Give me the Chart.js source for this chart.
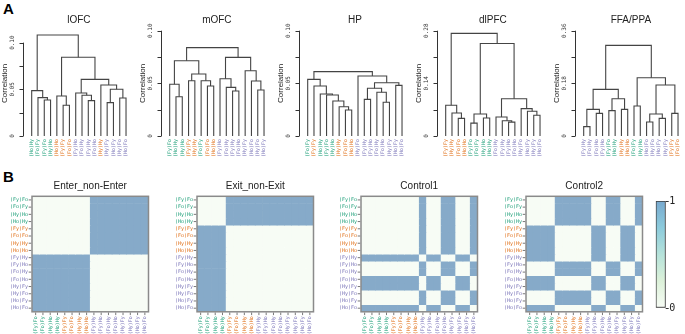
<!DOCTYPE html>
<html lang="en">
<head>
  <meta charset="UTF-8">
  <title>ROI dendrograms and model RDMs</title>
  <script src="https://cdn.jsdelivr.net/npm/chart.js"></script>
  <style>
    body { margin: 0; background: #fff; }
    #fig { position: relative; width: 685px; height: 334px; overflow: hidden; }
    #fig canvas { position: absolute; }
    .tag { position: absolute; left: 3px; font: bold 15px 'Liberation Sans', Arial, sans-serif; line-height: 15px; }
  </style>
</head>
<body>
<div id="fig">
  <div class="tag" style="top:1px">A</div>
  <div class="tag" style="top:169px">B</div>
</div>
<script>
// condition labels, grouped as in the model RDMs
const greenLabels = ['(Fy)Fo', '(Fo)Fy', '(Hy)Ho', '(Ho)Hy'];
const orangeLabels = ['(Fy)Fy', '(Fo)Fo', '(Hy)Hy', '(Ho)Ho'];
const purpleLabels = ['(Fy)Hy', '(Fy)Ho', '(Fo)Hy', '(Fo)Ho', '(Hy)Fy', '(Hy)Fo', '(Ho)Fy', '(Ho)Fo'];
const conditions = [...greenLabels, ...orangeLabels, ...purpleLabels];

// dendrograms: leaf order, then merges [nodeA, nodeB, height]
// nodes 0-15 are the leaves, node 16+k is merge k
const lofcLeaves = ['(Ho)Hy', '(Fo)Fy', '(Fy)Fo', '(Hy)Ho', '(Ho)Ho', '(Fy)Fy', '(Fo)Fo', '(Fy)Ho', '(Fo)Hy', '(Fy)Hy', '(Fo)Ho', '(Hy)Hy', '(Hy)Fy', '(Ho)Fy', '(Hy)Fo', '(Ho)Fo'];
const lofcMerges = [[2, 3, 0.0386], [1, 16, 0.0411], [0, 17, 0.0486], [5, 6, 0.0329], [4, 19, 0.0429], [9, 10, 0.0379], [8, 21, 0.0436], [7, 22, 0.0461], [12, 13, 0.0357], [14, 15, 0.0407], [24, 25, 0.0500], [11, 26, 0.0546], [23, 27, 0.0607], [20, 28, 0.0843], [18, 29, 0.1082]];

const mofcLeaves = ['(Fy)Fo', '(Ho)Hy', '(Hy)Ho', '(Fy)Fy', '(Hy)Hy', '(Fo)Fy', '(Fo)Fo', '(Ho)Ho', '(Fy)Ho', '(Fo)Hy', '(Fy)Hy', '(Fo)Ho', '(Hy)Fy', '(Ho)Fo', '(Hy)Fo', '(Ho)Fy'];
const mofcMerges = [[1, 2, 0.0373], [0, 16, 0.0491], [3, 4, 0.0525], [6, 7, 0.0475], [5, 19, 0.0525], [18, 20, 0.0589], [17, 21, 0.0715], [10, 11, 0.0427], [9, 23, 0.0462], [8, 24, 0.0544], [14, 15, 0.0437], [13, 26, 0.0522], [12, 27, 0.0620], [25, 28, 0.0747], [22, 29, 0.0839]];

const hpLeaves = ['(Fo)Fy', '(Fy)Fy', '(Ho)Hy', '(Fy)Fo', '(Hy)Ho', '(Hy)Hy', '(Fo)Fo', '(Ho)Ho', '(Hy)Fo', '(Fy)Hy', '(Fy)Ho', '(Fo)Hy', '(Fo)Ho', '(Hy)Fy', '(Ho)Fy', '(Ho)Fo'];
const hpMerges = [[6, 7, 0.0247], [5, 16, 0.0278], [4, 17, 0.0332], [3, 18, 0.0389], [2, 19, 0.0399], [1, 20, 0.0475], [0, 21, 0.0538], [9, 10, 0.0348], [12, 13, 0.0320], [11, 24, 0.0415], [23, 25, 0.0453], [14, 15, 0.0481], [26, 27, 0.0506], [8, 28, 0.0570], [22, 29, 0.0611]];

const dlpfcLeaves = ['(Fy)Fy', '(Hy)Hy', '(Fo)Fo', '(Ho)Ho', '(Fy)Fo', '(Fo)Fy', '(Hy)Ho', '(Ho)Hy', '(Fo)Hy', '(Fy)Hy', '(Fy)Ho', '(Fo)Ho', '(Hy)Fo', '(Ho)Fy', '(Hy)Fy', '(Ho)Fo'];
const dlpfcMerges = [[2, 3, 0.0468], [1, 16, 0.0612], [0, 17, 0.0819], [4, 5, 0.0342], [6, 7, 0.0477], [19, 20, 0.0585], [10, 11, 0.0369], [9, 22, 0.0405], [8, 23, 0.0504], [14, 15, 0.0550], [13, 25, 0.0657], [12, 26, 0.0729], [24, 27, 0.0990], [21, 28, 0.2458], [18, 29, 0.2728]];

const ffaLeaves = ['(Fy)Hy', '(Fo)Hy', '(Fo)Ho', '(Fy)Ho', '(Fy)Fo', '(Ho)Hy', '(Hy)Hy', '(Ho)Ho', '(Fo)Fy', '(Hy)Ho', '(Ho)Fo', '(Hy)Fo', '(Ho)Fy', '(Hy)Fy', '(Fy)Fy', '(Fo)Fo'];
const ffaMerges = [[0, 1, 0.0319], [2, 3, 0.0775], [16, 17, 0.0911], [4, 5, 0.0866], [6, 7, 0.0911], [19, 20, 0.1276], [18, 21, 0.1595], [8, 9, 0.1025], [10, 11, 0.0478], [12, 13, 0.0604], [24, 25, 0.0752], [14, 15, 0.0775], [26, 27, 0.1743], [23, 28, 0.1994], [22, 29, 0.3099]];

const roiNames = ['lOFC', 'mOFC', 'HP', 'dlPFC', 'FFA/PPA'];
const roiYMax = [0.1128, 0.10, 0.10, 0.28, 0.36];
const ofcTicks = [0, 0.025, 0.05, 0.075, 0.10];
const ofcTickLabels = ['0', '', '0.05', '', '0.10'];
const dlpfcTicks = [0, 0.07, 0.14, 0.21, 0.28];
const dlpfcTickLabels = ['0', '', '0.14', '', '0.28'];
const ffaTicks = [0, 0.09, 0.18, 0.27, 0.36];
const ffaTickLabels = ['0', '', '0.18', '', '0.36'];

// model RDMs, rows/cols in `conditions` order
const modelNames = ['Enter_non-Enter', 'Exit_non-Exit', 'Control1', 'Control2'];
const enterRdm = [
  '0000000011111111', '0000000011111111', '0000000011111111', '0000000011111111',
  '0000000011111111', '0000000011111111', '0000000011111111', '0000000011111111',
  '1111111100000000', '1111111100000000', '1111111100000000', '1111111100000000',
  '1111111100000000', '1111111100000000', '1111111100000000', '1111111100000000'
];
const exitRdm = [
  '0000111111111111', '0000111111111111', '0000111111111111', '0000111111111111',
  '1111000000000000', '1111000000000000', '1111000000000000', '1111000000000000',
  '1111000000000000', '1111000000000000', '1111000000000000', '1111000000000000',
  '1111000000000000', '1111000000000000', '1111000000000000', '1111000000000000'
];
const control1Rdm = [
  '0000000010011001', '0000000010011001', '0000000010011001', '0000000010011001',
  '0000000010011001', '0000000010011001', '0000000010011001', '0000000010011001',
  '1111111101100110', '0000000010011001', '0000000010011001', '1111111101100110',
  '1111111101100110', '0000000010011001', '0000000010011001', '1111111101100110'
];
const control2Rdm = [
  '0000111110011001', '0000111110011001', '0000111110011001', '0000111110011001',
  '1111000001100110', '1111000001100110', '1111000001100110', '1111000001100110',
  '1111000001100110', '0000111110011001', '0000111110011001', '1111000001100110',
  '1111000001100110', '0000111110011001', '0000111110011001', '1111000001100110'
];
const colorbarTicks = [0, 1];

const rdmColors = ['#f7fcf5', '#86aac9'];
const colorbarColors = ['#f7fcf5', '#dcf1d9', '#b5e2da', '#8ccbdc', '#78a9cf'];
const SANS = "'Liberation Sans', Arial, sans-serif";
const MONO = "'DejaVu Sans Mono', monospace";

function colorOf(lbl) {
  if (greenLabels.includes(lbl)) return '#1b9e77';
  if (orangeLabels.includes(lbl)) return '#e06f17';
  return '#7a74b8';
}

const fig = document.getElementById('fig');
function makeCanvas(left, top, w, h) {
  const c = document.createElement('canvas');
  c.width = w; c.height = h;
  c.style.left = left + 'px'; c.style.top = top + 'px';
  c.style.width = w + 'px'; c.style.height = h + 'px';
  fig.appendChild(c);
  return c;
}

function vText(ctx, txt, x, y, align) {
  ctx.save();
  ctx.translate(x, y);
  ctx.rotate(-Math.PI / 2);
  ctx.textAlign = align;
  ctx.textBaseline = 'middle';
  ctx.fillText(txt, 0, 0);
  ctx.restore();
}

function makeTreeDecor(t) {
  return {
    id: 'treeDecor',
    afterDraw(chart) {
      const { ctx, chartArea: a, scales: { x, y } } = chart;
      const ax = Math.round(a.left) + 0.5;
      ctx.save();
      ctx.strokeStyle = '#333'; ctx.lineWidth = 1;
      ctx.beginPath();
      ctx.moveTo(ax, y.getPixelForValue(t.ticks[0]));
      ctx.lineTo(ax, y.getPixelForValue(t.ticks[t.ticks.length - 1]));
      t.ticks.forEach(v => {
        const py = Math.round(y.getPixelForValue(v)) + 0.5;
        ctx.moveTo(ax, py); ctx.lineTo(ax - 4, py);
      });
      ctx.stroke();
      ctx.fillStyle = '#333';
      ctx.font = '6px ' + MONO;
      t.ticks.forEach((v, i) => {
        if (t.tickLabels[i]) vText(ctx, t.tickLabels[i], ax - 11, y.getPixelForValue(v), 'center');
      });
      ctx.fillStyle = '#222';
      ctx.font = '8px ' + SANS;
      vText(ctx, 'Correlation', ax - 19, (a.top + a.bottom) / 2, 'center');
      ctx.font = '10px ' + SANS;
      ctx.textAlign = 'center'; ctx.textBaseline = 'middle';
      ctx.fillText(t.name, x.getPixelForValue(7.5), 20);
      ctx.font = '5px ' + MONO;
      t.leaves.forEach((lbl, i) => {
        ctx.fillStyle = colorOf(lbl);
        vText(ctx, lbl, x.getPixelForValue(i), a.bottom + 3, 'right');
      });
      ctx.restore();
    }
  };
}

const trees = [
  { name: roiNames[0], leaves: lofcLeaves, merges: lofcMerges, yMax: roiYMax[0], ticks: ofcTicks, tickLabels: ofcTickLabels },
  { name: roiNames[1], leaves: mofcLeaves, merges: mofcMerges, yMax: roiYMax[1], ticks: ofcTicks, tickLabels: ofcTickLabels },
  { name: roiNames[2], leaves: hpLeaves, merges: hpMerges, yMax: roiYMax[2], ticks: ofcTicks, tickLabels: ofcTickLabels },
  { name: roiNames[3], leaves: dlpfcLeaves, merges: dlpfcMerges, yMax: roiYMax[3], ticks: dlpfcTicks, tickLabels: dlpfcTickLabels },
  { name: roiNames[4], leaves: ffaLeaves, merges: ffaMerges, yMax: roiYMax[4], ticks: ffaTicks, tickLabels: ffaTickLabels }
];

trees.forEach((t, k) => {
  const nodeX = t.leaves.map((_, i) => i);
  const nodeH = t.leaves.map(() => 0);
  const datasets = t.merges.map(([p, q, h]) => {
    nodeX.push((nodeX[p] + nodeX[q]) / 2);
    nodeH.push(h);
    return {
      data: [{ x: nodeX[p], y: nodeH[p] }, { x: nodeX[p], y: h }, { x: nodeX[q], y: h }, { x: nodeX[q], y: nodeH[q] }],
      showLine: true, borderColor: '#444', borderWidth: 1.1, pointRadius: 0, fill: false
    };
  });
  new Chart(makeCanvas(k * 138, 0, 138, 160), {
    type: 'scatter',
    data: { datasets },
    options: {
      responsive: false, animation: false, devicePixelRatio: 1,
      layout: { padding: { left: 22.7, right: 2.1, top: 30.7, bottom: 24 } },
      scales: {
        x: { type: 'linear', min: -1.43, max: 16.57, display: false },
        y: { type: 'linear', min: 0, max: t.yMax, display: false }
      },
      plugins: { legend: { display: false }, tooltip: { enabled: false } }
    },
    plugins: [makeTreeDecor(t)]
  });
});

function makeHeatDecor(name) {
  return {
    id: 'heatDecor',
    afterDraw(chart) {
      const { ctx, chartArea: a, scales: { x, y } } = chart;
      ctx.save();
      ctx.strokeStyle = '#8a8a8a'; ctx.lineWidth = 1.5;
      ctx.strokeRect(a.left, a.top, a.right - a.left, a.bottom - a.top);
      ctx.strokeStyle = '#555'; ctx.lineWidth = 0.8;
      ctx.beginPath();
      conditions.forEach((c, i) => {
        const py = y.getPixelForValue(i + 0.5);
        ctx.moveTo(a.left - 0.8, py); ctx.lineTo(a.left - 3.3, py);
        const px = x.getPixelForValue(i);
        ctx.moveTo(px, a.bottom + 0.8); ctx.lineTo(px, a.bottom + 3.3);
      });
      ctx.stroke();
      ctx.font = '5px ' + MONO;
      ctx.textAlign = 'right'; ctx.textBaseline = 'middle';
      conditions.forEach((c, i) => {
        ctx.fillStyle = colorOf(c);
        ctx.fillText(c, a.left - 4, y.getPixelForValue(i + 0.5));
        vText(ctx, c, x.getPixelForValue(i), a.bottom + 4.5, 'right');
      });
      ctx.fillStyle = '#222';
      ctx.font = '10px ' + SANS;
      ctx.textAlign = 'center'; ctx.textBaseline = 'middle';
      ctx.fillText(name, (a.left + a.right) / 2, 21);
      ctx.restore();
    }
  };
}

[enterRdm, exitRdm, control1Rdm, control2Rdm].forEach((rdm, k) => {
  new Chart(makeCanvas(k * 164.6, 165, 160, 169), {
    type: 'bar',
    data: {
      labels: conditions,
      datasets: rdm.map((row, i) => ({
        data: conditions.map(() => [i, i + 1]),
        backgroundColor: row.split('').map(v => rdmColors[+v]),
        borderWidth: 0, barPercentage: 1, categoryPercentage: 1, grouped: false
      }))
    },
    options: {
      responsive: false, animation: false, devicePixelRatio: 1,
      layout: { padding: { left: 32, right: 11.5, top: 31.3, bottom: 22.2 } },
      scales: {
        x: { display: false },
        y: { min: 0, max: 16, reverse: true, display: false }
      },
      plugins: { legend: { display: false }, tooltip: { enabled: false } }
    },
    plugins: [makeHeatDecor(modelNames[k])]
  });
});

// colour bar
const colorbarDecor = {
  id: 'colorbarDecor',
  afterDraw(chart) {
    const { ctx, chartArea: a, scales: { y } } = chart;
    ctx.save();
    ctx.strokeStyle = '#333'; ctx.lineWidth = 1;
    ctx.fillStyle = '#222';
    ctx.font = '10px ' + MONO;
    ctx.textAlign = 'left'; ctx.textBaseline = 'middle';
    colorbarTicks.forEach(v => {
      const py = Math.round(y.getPixelForValue(v)) + 0.5;
      ctx.beginPath(); ctx.moveTo(a.right, py); ctx.lineTo(a.right + 3, py); ctx.stroke();
      ctx.fillText(String(v), a.right + 3.5, py);
    });
    ctx.restore();
  }
};

new Chart(makeCanvas(640, 190, 45, 130), {
  type: 'bar',
  data: {
    labels: [''],
    datasets: [{
      data: [[colorbarTicks[0], colorbarTicks[1]]],
      backgroundColor: c => {
        const a = c.chart.chartArea;
        if (!a) return rdmColors[0];
        const g = c.chart.ctx.createLinearGradient(0, a.bottom, 0, a.top);
        colorbarColors.forEach((col, i) => g.addColorStop(i / (colorbarColors.length - 1), col));
        return g;
      },
      borderColor: '#3c3c3c', borderWidth: 1.2, borderSkipped: false,
      barPercentage: 1, categoryPercentage: 1
    }]
  },
  options: {
    responsive: false, animation: false, devicePixelRatio: 1,
    layout: { padding: { left: 15.7, right: 19.3, top: 11, bottom: 12.3 } },
    scales: {
      x: { display: false },
      y: { min: colorbarTicks[0], max: colorbarTicks[1], display: false }
    },
    plugins: { legend: { display: false }, tooltip: { enabled: false } }
  },
  plugins: [colorbarDecor]
});
</script>
</body>
</html>
